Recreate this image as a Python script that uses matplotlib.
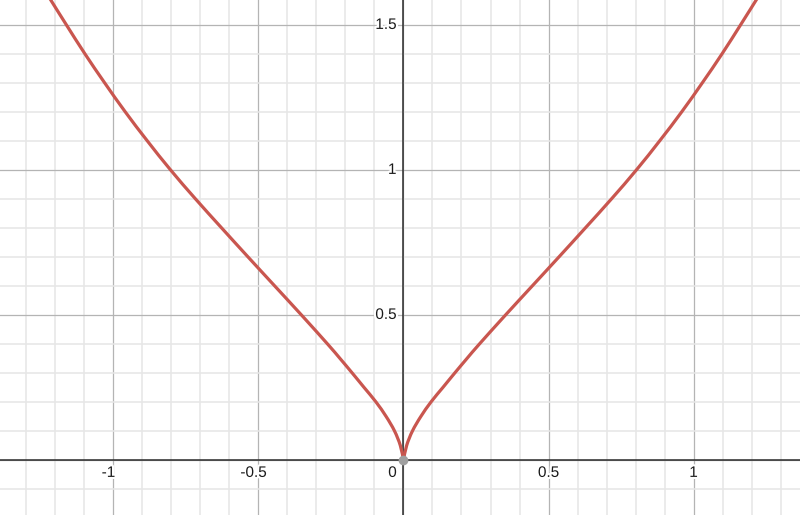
import matplotlib
matplotlib.use("Agg")
import matplotlib.pyplot as plt
import matplotlib.patheffects as pe
from matplotlib.path import Path
from matplotlib.patches import PathPatch
from matplotlib.ticker import MultipleLocator, NullFormatter

# curve points (left branch, cusp, right branch)
x_vals = [-1.231, -1.216, -1.162, -1.098, -1.030, -0.959, -0.883, -0.803,
          -0.717, -0.627, -0.536, -0.444, -0.352, -0.262, -0.219, -0.177,
          -0.136, -0.095, -0.060, -0.031, -0.011, 0.0,
          0.011, 0.031, 0.060, 0.095, 0.136, 0.177, 0.219, 0.262, 0.352,
          0.444, 0.536, 0.627, 0.717, 0.803, 0.883, 0.959, 1.030, 1.098,
          1.162, 1.216, 1.231]
y_vals = [1.61, 1.586, 1.5, 1.4, 1.3, 1.2, 1.1, 1.0,
          0.9, 0.8, 0.7, 0.6, 0.5, 0.4, 0.35, 0.3,
          0.25, 0.2, 0.15, 0.1, 0.05, 0.0,
          0.05, 0.1, 0.15, 0.2, 0.25, 0.3, 0.35, 0.4, 0.5,
          0.6, 0.7, 0.8, 0.9, 1.0, 1.1, 1.2, 1.3, 1.4,
          1.5, 1.586, 1.61]

x_ticks = [-1, -0.5, 0.5, 1]
x_tick_labels = ["-1", "-0.5", "0.5", "1"]
y_ticks = [0.5, 1, 1.5]
y_tick_labels = ["0.5", "1", "1.5"]

plt.rcParams["font.family"] = ["Liberation Sans", "DejaVu Sans"]


def smooth_path(pts):
    # Catmull-Rom segments through the points, as cubic Bezier pieces
    verts = [pts[0]]
    codes = [Path.MOVETO]
    n = len(pts)
    for i in range(n - 1):
        p0 = pts[max(i - 1, 0)]
        p1 = pts[i]
        p2 = pts[i + 1]
        p3 = pts[min(i + 2, n - 1)]
        c1 = (p1[0] + (p2[0] - p0[0]) / 6, p1[1] + (p2[1] - p0[1]) / 6)
        c2 = (p2[0] - (p3[0] - p1[0]) / 6, p2[1] - (p3[1] - p1[1]) / 6)
        verts += [c1, c2, p2]
        codes += [Path.CURVE4] * 3
    return Path(verts, codes)


fig = plt.figure(figsize=(8, 5.15), dpi=100)
ax = fig.add_axes([0, 0, 1, 1])
ax.set_xlim(-1.391, 1.367)
ax.set_ylim(-0.19, 1.586)

# grid
ax.xaxis.set_major_locator(MultipleLocator(0.5))
ax.yaxis.set_major_locator(MultipleLocator(0.5))
ax.xaxis.set_minor_locator(MultipleLocator(0.1))
ax.yaxis.set_minor_locator(MultipleLocator(0.1))
ax.grid(which="minor", color="#e6e6e6", lw=1.1, zorder=0)
ax.grid(which="major", color="#b4b4b4", lw=0.9, zorder=0.5)
ax.tick_params(which="both", length=0)
ax.xaxis.set_major_formatter(NullFormatter())
ax.yaxis.set_major_formatter(NullFormatter())
for s in ax.spines.values():
    s.set_visible(False)
ax.set_axisbelow(True)

ax.axhline(0, color="#2b2b2b", lw=1.1, zorder=1)
ax.axvline(0, color="#2b2b2b", lw=1.1, zorder=1)

# two branches meeting at the cusp
pts = list(zip(x_vals, y_vals))
left = [p for p in pts if p[0] <= 0]
right = [p for p in pts if p[0] >= 0]
for branch in (left, right):
    ax.add_patch(PathPatch(smooth_path(branch), fill=False, edgecolor="#c9564f",
                           lw=2.3, zorder=3, capstyle="round"))
ax.plot([0], [0], "o", color="#a0a0a0", ms=7, zorder=4, mec="none")

halo = [pe.withStroke(linewidth=3, foreground="white")]
lbl = dict(fontsize=11, color="#1a1a1a", path_effects=halo, zorder=5,
           textcoords="offset pixels", va="center")
for v, t in zip(x_ticks, x_tick_labels):
    dx = -5 if v < 0 else 0
    ax.annotate(t, (v, 0), xytext=(dx, -13), ha="center", **lbl)
ax.annotate("0", (0, 0), xytext=(-11, -13), ha="center", **lbl)
for v, t in zip(y_ticks, y_tick_labels):
    ax.annotate(t, (0, v), xytext=(-7, 0), ha="right", **lbl)

fig.savefig("out.png", dpi=100)
